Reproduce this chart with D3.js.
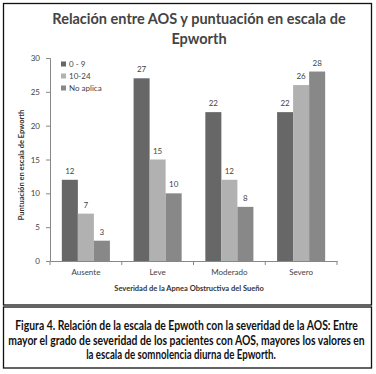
<!DOCTYPE html>
<html>
<head>
<meta charset="utf-8">
<script src="https://cdn.jsdelivr.net/npm/d3@7"></script>
<style>
  body { margin: 0; background: #fff; }
  svg text { font-family: Lato, "Open Sans", sans-serif; }
</style>
</head>
<body>
<div id="chart"></div>
<script>
// data
const categories = ["Ausente", "Leve", "Moderado", "Severo"];
const seriesNames = ["0 - 9", "10-24", "No aplica"];
const val0to9 = [12, 27, 22, 22];
const val10to24 = [7, 15, 12, 26];
const valNoAplica = [3, 10, 8, 28];
const yTicks = [0, 5, 10, 15, 20, 25, 30];
const colors = ["#676767", "#b1b1b1", "#888888"];
const captionLines = [
    "Figura 4. Relación de la escala de Epwoth con la severidad de la AOS: Entre",
    "mayor el grado de severidad de los pacientes con AOS, mayores los valores en",
    "la escala de somnolencia diurna de Epworth."
];
const captionWidths = [343, 357, 190];

const series = [val0to9, val10to24, valNoAplica];

const W = 376, H = 374;
const svg = d3.select("#chart").append("svg")
    .attr("width", W)
    .attr("height", H);

// frames
svg.append("rect").attr("x", 3.5).attr("y", 3.5).attr("width", 368).attr("height", 301.5)
    .attr("fill", "none").attr("stroke", "#111").attr("stroke-width", 1.3);
svg.append("rect").attr("x", 3.5).attr("y", 307).attr("width", 368).attr("height", 61)
    .attr("fill", "none").attr("stroke", "#111").attr("stroke-width", 1.3);

// title
svg.append("text").attr("x", 199).attr("y", 24).attr("text-anchor", "middle")
    .attr("font-size", 14.5).attr("font-weight", "bold").attr("fill", "#444")
    .text("Relación entre AOS y puntuación en escala de");
svg.append("text").attr("x", 199).attr("y", 44).attr("text-anchor", "middle")
    .attr("font-size", 14.5).attr("font-weight", "bold").attr("fill", "#444")
    .text("Epworth");

// scales
const x = d3.scaleBand().domain(categories).range([50, 337]).paddingInner(0.33).paddingOuter(0.165);
const xs = d3.scaleBand().domain(d3.range(series.length)).range([0, x.bandwidth()]);
const y = d3.scaleLinear().domain([0, 30]).range([261, 58]);

// axes
const yAxis = svg.append("g").attr("transform", "translate(50,0)")
    .call(d3.axisLeft(y).tickValues(yTicks).tickSize(4).tickPadding(6));
const xAxis = svg.append("g").attr("transform", "translate(0,261)")
    .call(d3.axisBottom(x).tickSize(0).tickPadding(8));
// x tick marks at category boundaries
const bounds = [50].concat(categories.map(c => x(c) + x.bandwidth() + x.step() * x.paddingInner() / 2));
bounds[bounds.length - 1] = 337;
xAxis.selectAll(".bnd").data(bounds).join("line")
    .attr("x1", d => d).attr("x2", d => d).attr("y1", 0).attr("y2", 4)
    .attr("stroke", "#888");
[yAxis, xAxis].forEach(a => {
    a.selectAll(".domain").attr("stroke", "#888");
    a.selectAll(".tick line").attr("stroke", "#888");
    a.selectAll("text").attr("font-size", 8).attr("fill", "#444")
        .attr("font-family", "Lato, sans-serif");
});

// bars
const groups = svg.append("g").selectAll("g").data(series).join("g")
    .attr("fill", (d, i) => colors[i]);
groups.selectAll("rect").data((d, i) => d.map((v, j) => ({v, j, i}))).join("rect")
    .attr("x", d => x(categories[d.j]) + xs(d.i))
    .attr("y", d => y(d.v))
    .attr("width", xs.bandwidth())
    .attr("height", d => y(0) - y(d.v));

// value labels
groups.selectAll("text").data((d, i) => d.map((v, j) => ({v, j, i}))).join("text")
    .attr("x", d => x(categories[d.j]) + xs(d.i) + xs.bandwidth() / 2)
    .attr("y", d => y(d.v) - 6)
    .attr("text-anchor", "middle")
    .attr("font-size", 8).attr("fill", "#444")
    .text(d => d.v);

// legend
const lg = svg.append("g").attr("transform", "translate(61,64)");
seriesNames.forEach((n, i) => {
    lg.append("rect").attr("x", 0).attr("y", i * 12 - 2.5).attr("width", 5).attr("height", 5)
        .attr("fill", colors[i]);
    lg.append("text").attr("x", 8).attr("y", i * 12 + 3)
        .attr("font-size", 8).attr("fill", "#444").text(n);
});

// axis titles
svg.append("text").attr("transform", "translate(24,165) rotate(-90)")
    .attr("text-anchor", "middle").attr("font-size", 7.5).attr("font-weight", "bold")
    .attr("fill", "#333").text("Puntuación en escala de Epworth");
svg.append("text").attr("x", 189).attr("y", 291).attr("text-anchor", "middle")
    .attr("font-size", 7.5).attr("font-weight", "bold").attr("fill", "#333")
    .text("Severidad de la Apnea Obstructiva del Sueño");

// caption: no condensed face installed, so squeeze each line horizontally
svg.append("g").selectAll("text").data(captionLines).join("text")
    .attr("text-anchor", "middle")
    .attr("font-family", "'Open Sans', sans-serif")
    .attr("font-size", 13).attr("font-weight", "bold").attr("fill", "#111")
    .text(d => d)
    .each(function(d, i) {
        const sx = captionWidths[i] / this.getComputedTextLength();
        const cx = i === 2 ? 181 : 186.5;
        d3.select(this).attr("transform", `translate(${cx},${330 + i * 14.5}) scale(${sx},1)`);
    });
</script>
</body>
</html>
